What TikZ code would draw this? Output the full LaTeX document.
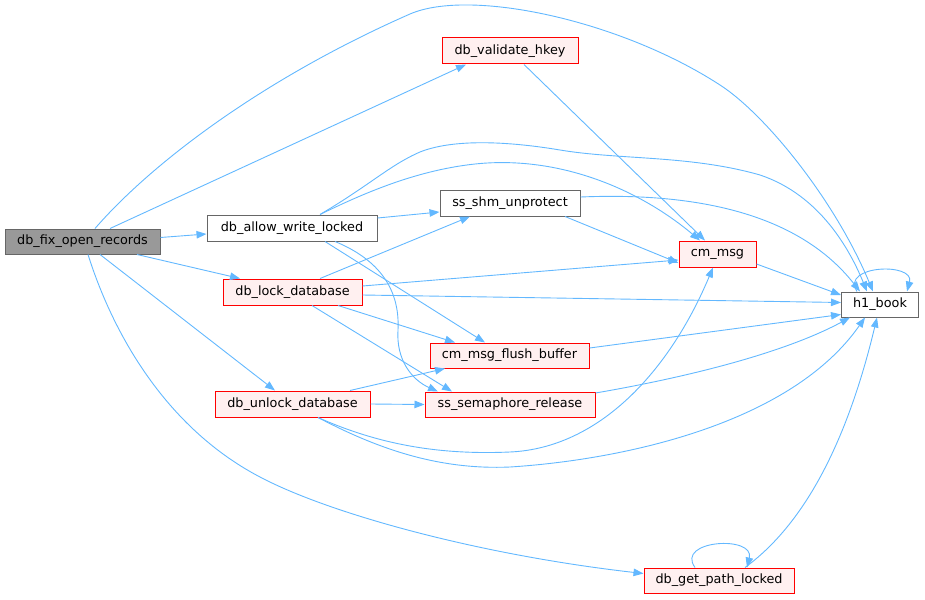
\documentclass[tikz,border=0pt]{standalone}
\usepackage{fontspec}
\setmainfont{DejaVu Sans}
\usetikzlibrary{arrows.meta}
\definecolor{edgeblue}{HTML}{63B8FF}
\definecolor{redfill}{HTML}{FFF0F0}
\definecolor{redline}{HTML}{FF0000}
\definecolor{grayfill}{HTML}{999999}
\definecolor{grayline}{HTML}{666666}
\begin{document}
\begin{tikzpicture}[x=1pt,y=-1pt,
  box/.style={inner sep=0pt, line width=1pt, font=\fontsize{12.8}{15}\selectfont, text=black},
  graybox/.style={box, fill=grayfill, draw=grayline},
  whitebox/.style={box, fill=white, draw=grayline},
  redbox/.style={box, fill=redfill, draw=redline},
  edge/.style={draw=edgeblue, line width=0.9pt, -{Triangle[length=10pt,width=7.5pt]}}]
\useasboundingbox (0,0) rectangle (925,599);

\node[graybox, minimum width=155pt, minimum height=25pt] (fix) at (82.5,241.5) {db\_fix\_open\_records};
\node[whitebox, minimum width=170pt, minimum height=26pt] (allow) at (292,228) {db\_allow\_write\_locked};
\node[redbox, minimum width=139pt, minimum height=26pt] (lock) at (292.5,292) {db\_lock\_database};
\node[redbox, minimum width=155pt, minimum height=26pt] (unlock) at (292.5,404) {db\_unlock\_database};
\node[redbox, minimum width=136pt, minimum height=26pt] (validate) at (510,51) {db\_validate\_hkey};
\node[whitebox, minimum width=140pt, minimum height=26pt] (shm) at (510,203) {ss\_shm\_unprotect};
\node[redbox, minimum width=77pt, minimum height=26pt] (cmmsg) at (717.5,254) {cm\_msg};
\node[whitebox, minimum width=77pt, minimum height=25pt] (h1) at (880,304.5) {h1\_book};
\node[redbox, minimum width=159pt, minimum height=25pt] (flush) at (509.5,355.5) {cm\_msg\_flush\_buffer};
\node[redbox, minimum width=170pt, minimum height=25pt] (sem) at (510,404.5) {ss\_semaphore\_release};
\node[redbox, minimum width=150pt, minimum height=25pt] (getpath) at (719,580.5) {db\_get\_path\_locked};

% fix -> ...
\draw[edge] ([xshift=12.5pt]fix.north) .. controls (150,165) and (260,80) .. (410,14)
  .. controls (470,-12) and (620,20) .. (720,85)
  .. controls (765,114) and (835,200) .. ([xshift=-7pt]h1.north);
\draw[edge] ([xshift=27.5pt]fix.north) -- ([xshift=-44pt]validate.south);
\draw[edge] ([yshift=4pt]fix.east) -- ([yshift=-6pt]allow.west);
\draw[edge] ([xshift=54.5pt]fix.south) -- ([xshift=-52.5pt]lock.north);
\draw[edge] ([xshift=17.5pt]fix.south) -- ([xshift=-17.5pt]unlock.north);
\draw[edge] ([xshift=5.5pt]fix.south) .. controls (115,340) and (170,430) .. (260,477)
  .. controls (330,514) and (480,555) .. ([yshift=7pt]getpath.west);

% allow -> ...
\draw[edge] ([xshift=28pt]allow.north) .. controls (370,185) and (390,165) .. (420,152)
  .. controls (450,140) and (500,140) .. (560,150)
  .. controls (620,160) and (690,155) .. (760,175)
  .. controls (820,195) and (850,250) .. ([xshift=-13pt]h1.north);
\draw[edge] ([xshift=28pt]allow.north) .. controls (370,190) and (420,170) .. (475,164)
  .. controls (560,155) and (640,190) .. ([xshift=-17.5pt]cmmsg.north);
\draw[edge] ([yshift=10pt]allow.east) -- ([yshift=-9pt]shm.west);
\draw[edge] ([xshift=33pt]allow.south) -- ([xshift=-24.5pt]flush.north);
\draw[edge] ([xshift=43pt]allow.south) .. controls (380,260) and (400,290) .. (398,330)
  .. controls (396,360) and (412,380) .. ([xshift=-72pt]sem.north);

% lock -> ...
\draw[edge] ([xshift=27.5pt]lock.north) -- ([xshift=-40pt]shm.south);
\draw[edge] ([yshift=6pt]lock.east) -- ([yshift=-6pt]cmmsg.west);
\draw[edge] ([yshift=-3pt]lock.east) -- ([yshift=2pt]h1.west);
\draw[edge] ([xshift=45.5pt]lock.south) -- ([xshift=-54.5pt]flush.north);
\draw[edge] ([xshift=19.5pt]lock.south) -- ([xshift=-58pt]sem.north);

% unlock -> ...
\draw[edge] ([xshift=57.5pt]unlock.north) -- ([xshift=-64.5pt]flush.south);
\draw[edge] (unlock.east) -- (sem.west);
\draw[edge] ([xshift=25.5pt]unlock.south) .. controls (380,445) and (440,455) .. (510,452)
  .. controls (600,448) and (670,370) .. ([xshift=-4.5pt]cmmsg.south);
\draw[edge] ([xshift=25.5pt]unlock.south) .. controls (380,450) and (440,470) .. (510,467)
  .. controls (620,460) and (790,425) .. ([xshift=-15pt]h1.south);

% others
\draw[edge] ([xshift=55pt]shm.south) -- ([yshift=-9pt]cmmsg.west);
\draw[edge] ([yshift=6pt]shm.east) .. controls (700,192) and (800,215) .. ([xshift=-20pt]h1.north);
\draw[edge] ([xshift=14pt]validate.south) -- ([xshift=-12.5pt]cmmsg.north);
\draw[edge] ([yshift=-10pt]cmmsg.east) -- ([yshift=9.5pt]h1.west);
\draw[edge] ([yshift=7.5pt]flush.east) -- ([yshift=-10pt]h1.west);
\draw[edge] ([yshift=11.5pt]sem.east) .. controls (700,375) and (790,350) .. ([xshift=-30pt]h1.south);
\draw[edge] ([xshift=-23pt]h1.north) .. controls (840,265) and (915,262) .. ([xshift=27pt]h1.north);
\draw[edge] ([xshift=26pt]getpath.north) .. controls (810,520) and (850,430) .. ([xshift=-3pt]h1.south);
\draw[edge] ([xshift=-24pt]getpath.north) .. controls (675,540) and (755,535) .. ([xshift=28pt]getpath.north);
\end{tikzpicture}
\end{document}
